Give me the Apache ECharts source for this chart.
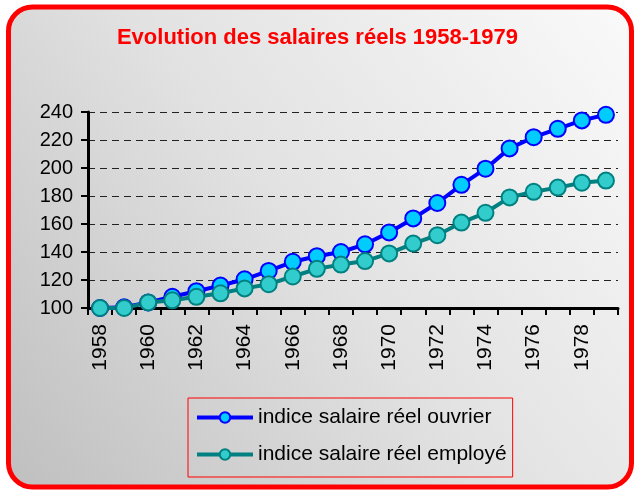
<!DOCTYPE html>
<html>
<head>
<meta charset="utf-8">
<title>Evolution des salaires réels 1958-1979</title>
<script src="https://cdn.jsdelivr.net/npm/echarts@6/dist/echarts.min.js"></script>
<style>
  html, body { margin: 0; padding: 0; background: #fff; }
  #chart { width: 635px; height: 491px; }
</style>
</head>
<body>
<div id="chart"></div>
<script>
// données (indice base 100 en 1958)
const years = ['1958', '1959', '1960', '1961', '1962', '1963', '1964', '1965', '1966', '1967', '1968',
  '1969', '1970', '1971', '1972', '1973', '1974', '1975', '1976', '1977', '1978', '1979'];
const ouvrier = [100, 100.5, 104, 108, 112, 116, 120.5, 126.5, 133, 137, 140,
  145.5, 154, 164, 175, 188, 199.5, 214, 222, 228, 234, 238];
const employe = [100, 100, 104, 105.5, 108, 110.5, 114, 117, 122.5, 128, 131,
  133.5, 139, 146, 152, 161, 168, 179, 183, 186, 189.5, 191];
const yTicks = { min: 100, max: 240, step: 20 };

const FONT = 'Arial, "Liberation Sans", sans-serif';

function lineSeries(name, data, line, fill) {
  return {
    name, type: 'line', data,
    symbol: 'circle', symbolSize: 16,
    lineStyle: { color: line, width: 4 },
    itemStyle: { color: fill, borderColor: line, borderWidth: 2 },
    emphasis: { disabled: true },
    animation: false
  };
}

const chart = echarts.init(document.getElementById('chart'), null, { renderer: 'canvas' });
chart.setOption({
  backgroundColor: 'transparent',
  graphic: [{
    type: 'rect', z: -10, silent: true,
    shape: { x: 8.5, y: 7, width: 623, height: 480, r: 24 },
    style: {
      fill: new echarts.graphic.LinearGradient(0, 1, 1, 0, [
        { offset: 0, color: '#bfbfbf' },
        { offset: 0.5, color: '#e2e2e2' },
        { offset: 1, color: '#fafafa' }
      ]),
      stroke: '#ff0000', lineWidth: 5
    }
  }],
  title: {
    text: 'Evolution des salaires réels 1958-1979',
    left: 'center', top: 22,
    textStyle: { color: '#ff0000', fontSize: 22, fontWeight: 'bold', fontFamily: FONT }
  },
  legend: {
    orient: 'vertical', left: 188, top: 398,
    padding: [9, 6, 12, 7], itemGap: 16,
    itemWidth: 56, itemHeight: 13,
    borderColor: '#ff0000', borderWidth: 1,
    lineStyle: { width: 4 },
    textStyle: { color: '#000', fontSize: 21, fontFamily: FONT },
    data: ['indice salaire réel ouvrier', 'indice salaire réel employé']
  },
  grid: { left: 88, right: 17, top: 112, bottom: 183, containLabel: false },
  xAxis: {
    type: 'category', data: years, boundaryGap: true,
    axisLine: { lineStyle: { color: '#000', width: 3 } },
    axisTick: { show: true, interval: 0, length: 7, lineStyle: { color: '#000', width: 2 } },
    axisLabel: { interval: 1, rotate: 90, margin: 16, color: '#000', fontSize: 21, fontFamily: FONT }
  },
  yAxis: {
    type: 'value', min: yTicks.min, max: yTicks.max, interval: yTicks.step,
    axisLine: { show: true, lineStyle: { color: '#000', width: 3 } },
    axisTick: { show: true, length: 7, lineStyle: { color: '#000', width: 2 } },
    axisLabel: { margin: 15, color: '#000', fontSize: 20, fontFamily: FONT },
    splitLine: { show: true, lineStyle: { color: '#222', width: 1, type: [7, 5] } }
  },
  series: [
    lineSeries('indice salaire réel ouvrier', ouvrier, '#0000ff', '#00ccff'),
    lineSeries('indice salaire réel employé', employe, '#008080', '#33cccc')
  ]
});
</script>
</body>
</html>
